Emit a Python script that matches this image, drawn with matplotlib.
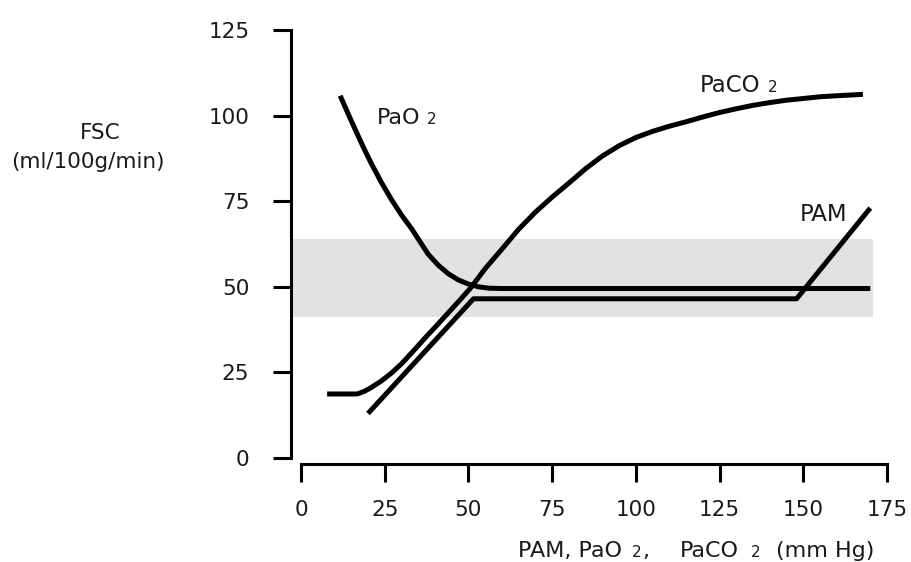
import matplotlib
matplotlib.use("Agg")
import matplotlib.pyplot as plt
from matplotlib.transforms import IdentityTransform

plt.rcParams['font.family'] = ['DejaVu Sans']

# ---- data ----
pao2_x = [11.7, 15, 18.5, 21, 24, 27, 30, 33, 36, 38, 41, 44, 47, 50, 53, 56, 60, 170]
pao2_y = [105.8, 98.5, 91, 86, 80.5, 75.5, 71, 67, 62.5, 59.5, 56.3, 53.8, 52, 50.8, 50, 49.6, 49.5, 49.5]

paco2_x = [7.8, 16.8, 19, 21, 24, 27, 30, 33.5, 37, 41, 45, 47.6, 50.6, 55, 60, 65, 70, 75, 80,
           85, 90, 95, 100, 105, 110, 115, 120, 125, 130, 135, 140, 145, 150, 155, 160, 167.8]
paco2_y = [18.7, 18.7, 19.5, 20.6, 22.5, 24.8, 27.5, 31.2, 35, 39.2, 43.5, 46.3, 49.6, 55.3, 61, 66.8, 71.8, 76.2, 80.3,
           84.5, 88.2, 91.2, 93.6, 95.4, 96.9, 98.2, 99.6, 100.9, 102, 103, 103.8, 104.5, 105, 105.5, 105.8, 106.2]

pam_x = [20, 51.5, 148, 170]
pam_y = [13, 46.5, 46.5, 73]

band_x = [-3, 170.8]
band_low = 41.1
band_high = 64.1

x_ticks = [0, 25, 50, 75, 100, 125, 150, 175]
y_ticks = [0, 25, 50, 75, 100, 125]

# ---- figure ----
W, H = 912, 562
fig = plt.figure(figsize=(W / 100, H / 100), dpi=100)
ax = fig.add_axes([301 / W, 104 / H, 586 / W, 428 / H])
ax.set_xlim(0, 175)
ax.set_ylim(0, 125)

ax.fill_between(band_x, band_low, band_high, color='#e2e2e2', lw=0, zorder=0, clip_on=False)

line_kw = dict(color='black', lw=3.6, clip_on=False, solid_capstyle='butt', solid_joinstyle='round', zorder=3)
ax.plot(pao2_x, pao2_y, **line_kw)
ax.plot(paco2_x, paco2_y, **line_kw)
ax.plot(pam_x, pam_y, **line_kw)

for s in ('top', 'right'):
    ax.spines[s].set_visible(False)
ax.spines['left'].set_position(('outward', 7.2))
ax.spines['bottom'].set_position(('outward', 4.3))
ax.spines['left'].set_bounds(0, 125)
ax.spines['bottom'].set_bounds(0, 175)
for s in ('left', 'bottom'):
    ax.spines[s].set_linewidth(2.2)
    ax.spines[s].set_capstyle('projecting')

ax.set_xticks(x_ticks)
ax.set_yticks(y_ticks)
ax.set_xticklabels([str(v) for v in x_ticks])
ax.set_yticklabels([str(v) for v in y_ticks])
ax.tick_params(axis='both', length=13, width=2.2, direction='out', labelsize=15.5, labelcolor='#1a1a1a')
ax.tick_params(axis='y', pad=17)
ax.tick_params(axis='x', pad=13)

renderer = fig.canvas.get_renderer()


def rich(x, y_top, parts):
    y = H - y_top
    for s, size, gap in parts:
        x += gap
        t = fig.text(x, y, s, fontsize=size, ha='left', va='baseline',
                     transform=IdentityTransform(), color='#1a1a1a')
        x = t.get_window_extent(renderer).x1


# curve labels
rich(377, 124, [("PaO", 16, 0), ("2", 11, 6)])
rich(700, 92, [("PaCO", 16.5, 0), ("2", 11, 7)])
rich(800, 221, [("PAM", 16.5, 0)])

# x axis label
rich(518, 557, [("PAM, PaO", 16, 0), ("2", 11, 10), (",", 16, 1), ("PaCO", 16, 30),
                ("2", 11, 12), ("(mm Hg)", 16, 16)])

# y axis label
fig.text(100, H - 133, "FSC", fontsize=15.5, ha='center', va='center',
         transform=IdentityTransform(), color='#1a1a1a')
fig.text(88, H - 162, "(ml/100g/min)", fontsize=15.5, ha='center', va='center',
         transform=IdentityTransform(), color='#1a1a1a')

fig.savefig("out.png", dpi=100)
